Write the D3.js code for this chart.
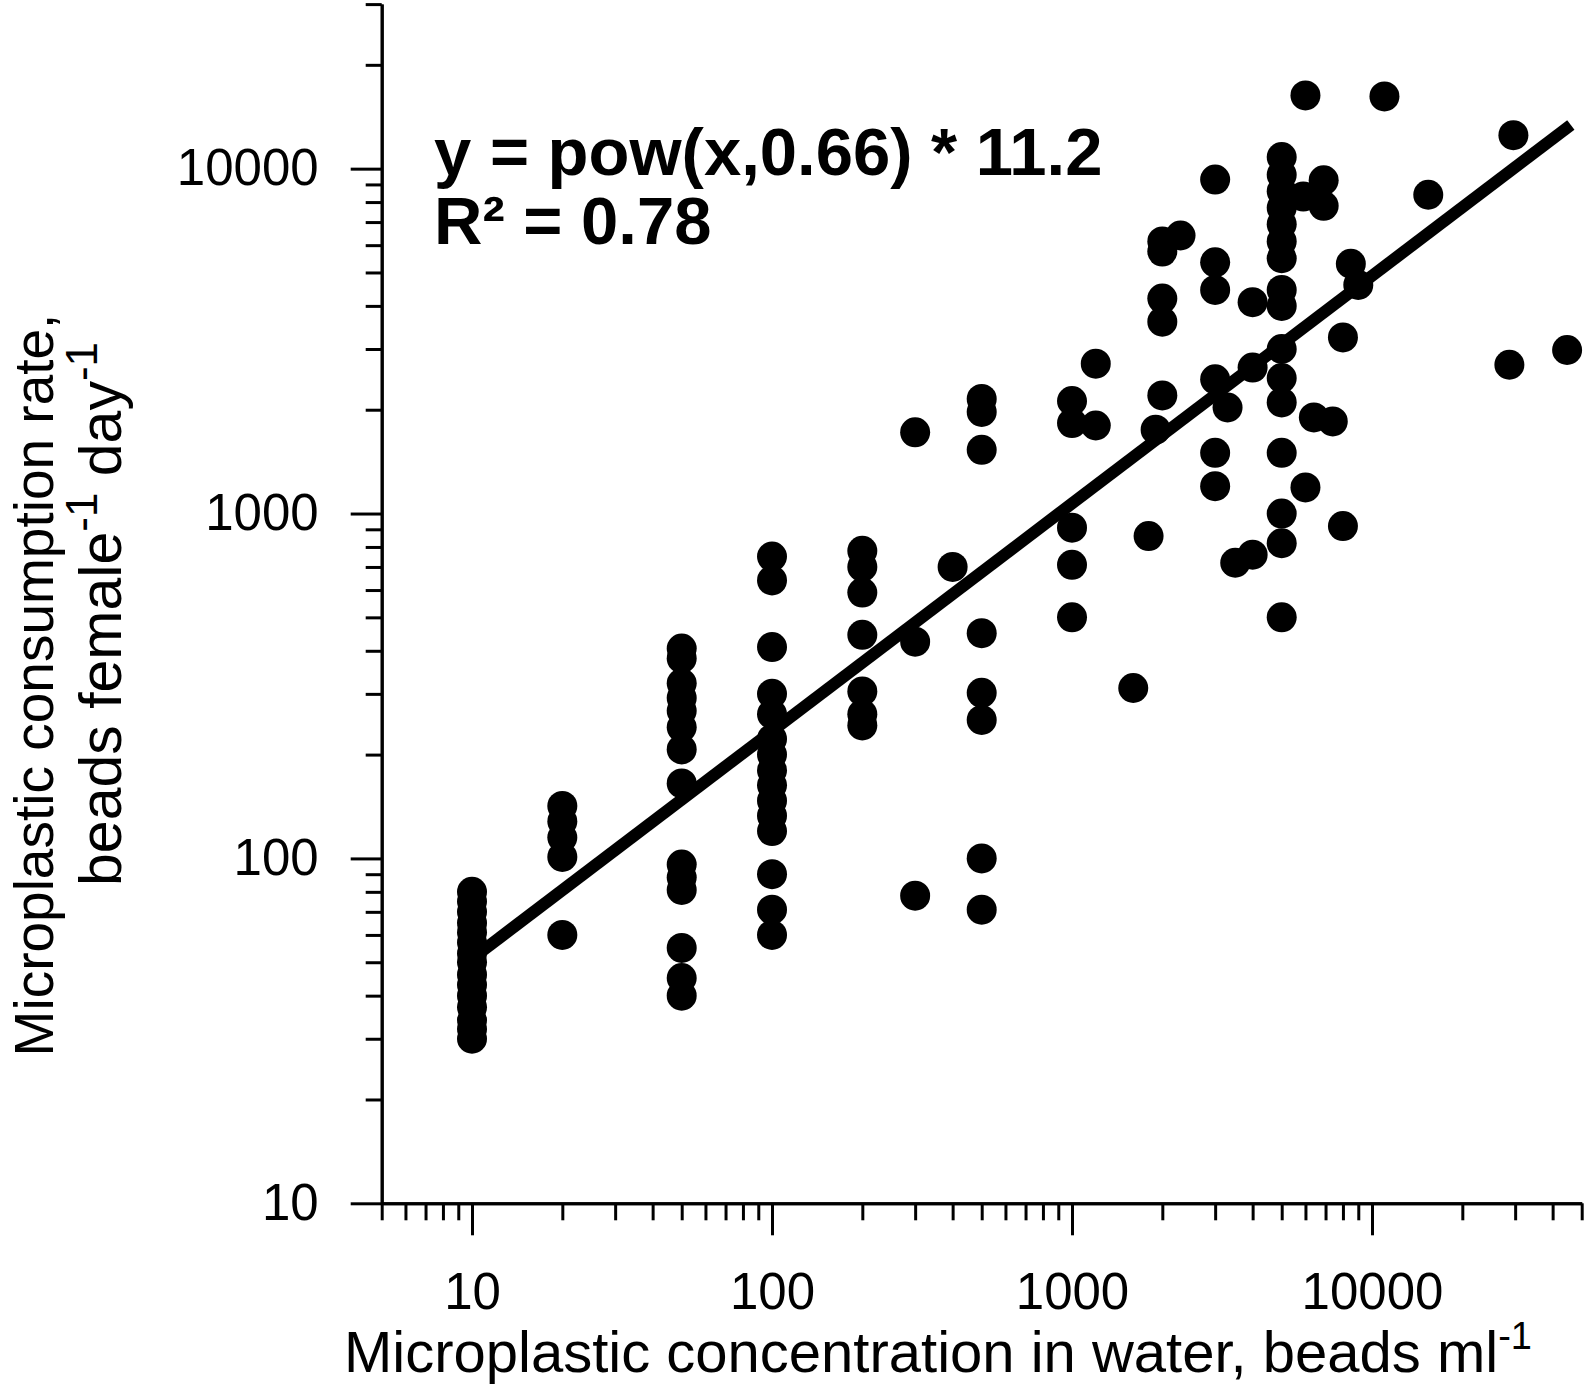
<!DOCTYPE html>
<html>
<head>
<meta charset="utf-8">
<script src="https://cdn.jsdelivr.net/npm/d3@7"></script>
<style>
  html, body { margin: 0; padding: 0; background: #fff; }
  svg { display: block; font-family: "Liberation Sans", Arial, sans-serif; }
</style>
</head>
<body>
<svg id="chart" width="1587" height="1385"></svg>
<script>
// Microplastic concentration in water (beads ml-1), one entry per dot,
// grouped by the concentration columns visible in the figure.
const concentration = [
  10, 10, 10, 10, 10, 10, 10, 10, 10, 10, 10, 10, 10, 10, 10,
  20, 20, 20, 20, 20,
  50, 50, 50, 50, 50, 50, 50, 50, 50, 50, 50, 50, 50, 50,
  100, 100, 100, 100, 100, 100, 100, 100, 100, 100, 100, 100, 100, 100, 100,
  200, 200, 200, 200, 200, 200, 200,
  300, 300, 300,
  400,
  500, 500, 500, 500, 500, 500, 500, 500,
  1000, 1000, 1000, 1000, 1000,
  1200, 1200,
  1600,
  1800, 1900,
  2000, 2000, 2000, 2000, 2000,
  2300,
  3000, 3000, 3000, 3000, 3000, 3000,
  3300,
  3500,
  4000, 4000, 4000,
  5000, 5000, 5000, 5000, 5000, 5000, 5000, 5000, 5000, 5000, 5000, 5000, 5000, 5000, 5000, 5000,
  5900, 6000, 6000,
  6900, 6900,
  6400, 7400,
  8000, 8000,
  8500, 9000,
  11000, 15400, 28700, 29600, 44700
]

// Microplastic consumption rate (beads female-1 day-1), same order as above
const consumption = [
  80, 75, 70, 65, 61, 57, 53, 50, 46, 43, 40, 37, 34, 32, 30,
  142, 128, 115, 101, 60,
  406, 380, 322, 292, 268, 240, 207, 165, 96, 88, 81, 55, 45, 40,
  750, 640, 410, 300, 262, 222, 200, 180, 163, 147, 133, 120, 90, 71, 60,
  780, 700, 590, 445, 305, 262, 243,
  1720, 425, 78,
  700,
  2150, 1970, 1530, 450, 302, 252, 100, 71,
  2120, 1830, 910, 710, 500,
  2720, 1800,
  312,
  860, 1750,
  6150, 5750, 4200, 3600, 2200,
  6400,
  9300, 5350, 4450, 2450, 1500, 1200,
  2030,
  720,
  4100, 2650, 760,
  10800, 9600, 8600, 7700, 6900, 6150, 5500, 4450, 4000, 3000, 2470, 2100, 1500, 1000, 820, 500,
  8300, 16300, 1190,
  9250, 7800,
  1900, 1850,
  3240, 920,
  5300, 4600,
  16200, 8400, 2700, 12500, 2980
]

// Power-law fit shown on the chart: y = coef * x^exp
const fitCoef = 11.2
const fitExp = 0.66
const fitR2 = 0.78
const fitSpan = [10, 46000]

const xMajor = [10, 100, 1000, 10000]
const xMinor = [5, 6, 7, 8, 9, 20, 30, 40, 50, 60, 70, 80, 90,
  200, 300, 400, 500, 600, 700, 800, 900,
  2000, 3000, 4000, 5000, 6000, 7000, 8000, 9000,
  20000, 30000, 40000, 50000]
const yMajor = [10, 100, 1000, 10000]
const yMinor = [20, 30, 40, 50, 60, 70, 80, 90,
  200, 300, 400, 500, 600, 700, 800, 900,
  2000, 3000, 4000, 5000, 6000, 7000, 8000, 9000,
  20000, 30000]

const svg = d3.select('#chart')

const x = d3.scaleLog().domain([5, 50000]).range([381.7, 1581.7])
const y = d3.scaleLog().domain([10, 30000]).range([1203.3, 4.1])

// ── Axes: minor ticks first, then major ticks with labels ──
function styleAxis(g) {
  g.selectAll('path, line').attr('stroke', '#000').attr('stroke-width', 3)
  g.selectAll('text').attr('font-size', 51).attr('fill', '#000')
    .attr('font-family', '"Liberation Sans", Arial, sans-serif')
}

const gx = svg.append('g').attr('transform', `translate(0,${y.range()[0]})`)
gx.append('g')
  .call(d3.axisBottom(x).tickValues(xMinor).tickSize(17).tickSizeOuter(0).tickFormat(''))
  .call(styleAxis)
gx.append('g')
  .call(d3.axisBottom(x).tickValues(xMajor).tickSize(32).tickSizeOuter(0).tickPadding(37).tickFormat(d3.format('d')))
  .call(styleAxis)

const gy = svg.append('g').attr('transform', `translate(${x.range()[0]},0)`)
gy.append('g')
  .call(d3.axisLeft(y).tickValues(yMinor).tickSize(16).tickSizeOuter(0).tickFormat(''))
  .call(styleAxis)
gy.append('g')
  .call(d3.axisLeft(y).tickValues(yMajor).tickSize(31).tickSizeOuter(0).tickPadding(32).tickFormat(d3.format('d')))
  .call(styleAxis)

// ── Dots ──
const points = concentration.map((c, i) => ({ c, r: consumption[i] }))
svg.append('g')
  .selectAll('circle')
  .data(points)
  .join('circle')
  .attr('cx', d => x(d.c))
  .attr('cy', d => y(d.r))
  .attr('r', 15)
  .attr('fill', '#000')

// ── Fit line (straight on log-log, so the two ends are enough) ──
const fitLine = d3.line()
  .x(d => x(d))
  .y(d => y(fitCoef * Math.pow(d, fitExp)))
svg.append('path')
  .attr('d', fitLine(fitSpan))
  .attr('fill', 'none')
  .attr('stroke', '#000')
  .attr('stroke-width', 12)

// ── Equation ──
svg.append('text')
  .attr('x', 434).attr('y', 175)
  .attr('font-size', 67).attr('font-weight', 'bold')
  .text(`y = pow(x,${fitExp}) * ${fitCoef}`)
svg.append('text')
  .attr('x', 434).attr('y', 244)
  .attr('font-size', 67).attr('font-weight', 'bold')
  .text(`R² = ${fitR2}`)

// ── Axis titles ──
const xTitle = svg.append('text')
  .attr('x', 938).attr('y', 1372)
  .attr('text-anchor', 'middle')
  .attr('font-size', 58)
xTitle.append('tspan').text('Microplastic concentration in water, beads ml')
xTitle.append('tspan').attr('font-size', 38).attr('dy', -23).text('-1')

// Rotated title: each line placed on its own centre, as in the figure
const yTitle = svg.append('g').attr('transform', 'rotate(-90)')
yTitle.append('text')
  .attr('x', -685).attr('y', 53)
  .attr('text-anchor', 'middle')
  .attr('font-size', 55)
  .text('Microplastic consumption rate,')
const yLine2 = yTitle.append('text')
  .attr('x', -614).attr('y', 121)
  .attr('text-anchor', 'middle')
  .attr('font-size', 59)
yLine2.append('tspan').text('beads female')
yLine2.append('tspan').attr('font-size', 44).attr('dy', -24).text('-1')
yLine2.append('tspan').attr('dy', 24).text(' day')
yLine2.append('tspan').attr('font-size', 44).attr('dy', -24).text('-1')
</script>
</body>
</html>
